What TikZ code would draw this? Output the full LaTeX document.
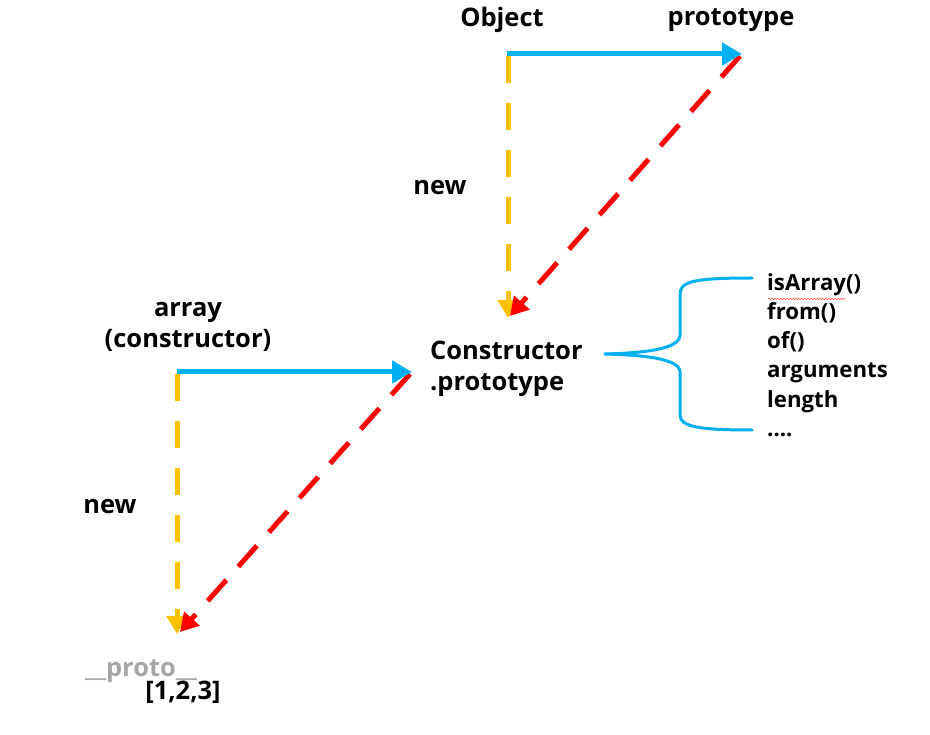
\documentclass[tikz,border=0pt]{standalone}
\usepackage{fontspec}
\setmainfont{Open Sans}
\usetikzlibrary{arrows.meta,decorations.pathmorphing}
\definecolor{cblue}{RGB}{0,176,240}
\definecolor{cyel}{RGB}{255,192,0}
\definecolor{cred}{RGB}{255,0,0}
\definecolor{cgray}{RGB}{166,166,166}
\begin{document}
\begin{tikzpicture}[x=1pt,y=-1pt,
  lbl/.style={font=\fontsize{25.5}{31}\selectfont\bfseries, inner sep=0pt},
  lst/.style={font=\fontsize{22.2}{29.3}\selectfont\bfseries, inner sep=0pt, align=left, anchor=north west},
  bluearrow/.style={draw=cblue, line width=5pt, -{Triangle[length=20pt,width=22pt]}},
  yelarrow/.style={draw=cyel, line width=5pt, dash pattern=on 27pt off 20pt, -{Triangle[length=18pt,width=20pt]}},
  redarrow/.style={draw=cred, line width=5pt, dash pattern=on 28pt off 18pt, -{Triangle[length=18pt,width=20pt]}},
  brace/.style={draw=cblue, line width=3pt, line cap=round}]
\useasboundingbox (0,0) rectangle (930,735);

% top group
\node[lbl] (obj) at (502,20) {Object};
\node[lbl] (proto) at (731,20) {prototype};
\coordinate (o1) at (507,54);
\coordinate (o2) at (742,54);
\coordinate (o3) at (508,318);
\coordinate (o4) at (740,56);
\coordinate (o5) at (510,316);
\draw[yelarrow] (508,56) -- (o3);
\draw[redarrow] (o4) -- (o5);
\draw[bluearrow] (o1) -- (o2);
\node[lbl] (new1) at (440,188) {new};

% middle group
\node[lbl, align=center] (arr) at (188,327) {array\\(constructor)};
\node[lbl, align=left, anchor=west] (cp) at (430,369) {Constructor\\.prototype};
\coordinate (a1) at (177,372);
\coordinate (a2) at (412,372);
\coordinate (a3) at (177,634);
\coordinate (a4) at (410,374);
\coordinate (a5) at (180,632);
\draw[yelarrow] (177,374) -- (a3);
\draw[redarrow] (a4) -- (a5);
\draw[bluearrow] (a1) -- (a2);
\node[lbl] (new2) at (110,507) {new};

% bottom
\node[lbl, text=cgray] (pr) at (141,671) {\_\_proto\_\_};
\node[lbl] (inst) at (183,692) {[1,2,3]};

% brace
\coordinate (bL) at (605,354);
\coordinate (bT) at (752,278);
\coordinate (bB) at (752,430);
\draw[brace] (bT) .. controls (690,278) and (680,282) .. (680,295)
  -- (680,335) .. controls (680,350) and (640,353) .. (bL);
\draw[brace] (bL) .. controls (640,355) and (680,358) .. (680,372)
  -- (680,415) .. controls (680,427) and (700,430) .. (bB);

% list
\node[lst] (list) at (767,273) {isArray()\\from()\\of()\\arguments\\length\\....};
\draw[cred!70, line width=0.5pt, decorate, decoration={snake, amplitude=0.8pt, segment length=3pt}] (768,299) -- (845,299);
\end{tikzpicture}
\end{document}
